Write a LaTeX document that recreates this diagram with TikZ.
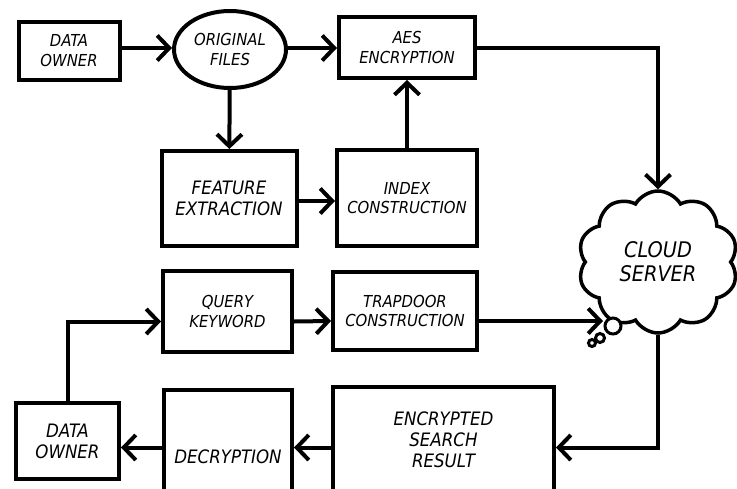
\documentclass[tikz,border=0pt]{standalone}
\usepackage{fontspec}
\newfontfamily\lab{DejaVu Sans Condensed}[ItalicFont={DejaVu Sans Condensed Oblique}]
\usetikzlibrary{arrows.meta,shapes.geometric,shapes.symbols}
\begin{document}
\begin{tikzpicture}[x=1pt,y=-1pt,
  box/.style={draw,line width=4pt,rectangle,align=center,inner sep=0pt,
    font=\lab\itshape\fontsize{16.5}{19.5}\selectfont},
  bigbox/.style={box,font=\lab\itshape\fontsize{18.5}{21}\selectfont},
  arr/.style={line width=4pt,-{Straight Barb[length=12pt,width=25pt]}},
  ln/.style={line width=4pt}]
\useasboundingbox (0,0) rectangle (737,488);
\fill[white] (0,0) rectangle (737,488);

% top row
\node[box,minimum width=101pt,minimum height=58pt] (do1) at (69,50.5) {DATA\\OWNER};
\node[ellipse,draw,line width=4pt,minimum width=112pt,minimum height=77pt,inner sep=0pt,align=center,
  font=\lab\itshape\fontsize{16.5}{19.5}\selectfont] (of) at (230,49.5) {ORIGINAL\\FILES};
\node[box,minimum width=136pt,minimum height=61pt] (aes) at (407,47.5) {AES\\ENCRYPTION};

% middle row
\node[bigbox,minimum width=135pt,minimum height=95pt] (fe) at (229,198.5) {FEATURE\\EXTRACTION};
\node[box,minimum width=140pt,minimum height=96pt] (ic) at (407,198) {INDEX\\CONSTRUCTION};

% cloud
\node[cloud,draw,line width=3.5pt,cloud puffs=10,cloud puff arc=120,cloud ignores aspect,
  minimum width=160pt,minimum height=142pt,inner sep=0pt,align=center,
  font=\lab\itshape\fontsize{21.5}{24}\selectfont] (cloud) at (658,262) {CLOUD\\SERVER};
\coordinate (tail) at (603,321);
\filldraw[fill=white,line width=3pt] (613,326) circle (8);
\filldraw[fill=white,line width=3pt] (600,338) circle (4.5);
\filldraw[fill=white,line width=3pt] (592,343) circle (3.5);

% query row
\node[box,minimum width=129pt,minimum height=81pt] (qk) at (227.5,311.5) {QUERY\\KEYWORD};
\node[box,minimum width=144pt,minimum height=78pt] (td) at (405,311) {TRAPDOOR\\CONSTRUCTION};

% bottom row
\coordinate (rowB) at (0,447.5);
\node[bigbox,minimum width=103pt,minimum height=76pt] (do2) at (67.5,441) {DATA\\OWNER};
\node[bigbox,minimum width=128pt,minimum height=134pt] (dec) at (228,457) {DECRYPTION};
\node[bigbox,minimum width=221pt,minimum height=106pt] (enc) at (443.5,440) {ENCRYPTED\\SEARCH\\RESULT};

% connectors
\draw[arr] (do1.east |- 0,48) -- (of.west |- 0,48);
\draw[arr] (of.east |- 0,48) -- (aes.west |- 0,48);
\draw[arr] (of) -- (fe);
\draw[arr] (fe.east |- 0,201) -- (ic.west |- 0,201);
\draw[arr] (ic) -- (aes);
\draw[arr] (aes.east) -| (cloud);
\draw[arr] ([yshift=-10pt]qk.east) -- ([yshift=-10pt]td.west);
\draw[arr] ([yshift=-10pt]td.east) -- (tail);
\draw[arr] (cloud.south) |- (enc.east |- rowB);
\draw[arr] (enc.west |- rowB) -- (dec.east |- rowB);
\draw[arr] (dec.west |- rowB) -- (do2.east |- rowB);
\draw[arr] (do2.north) |- ([yshift=-10pt]qk.west);
\end{tikzpicture}
\end{document}
